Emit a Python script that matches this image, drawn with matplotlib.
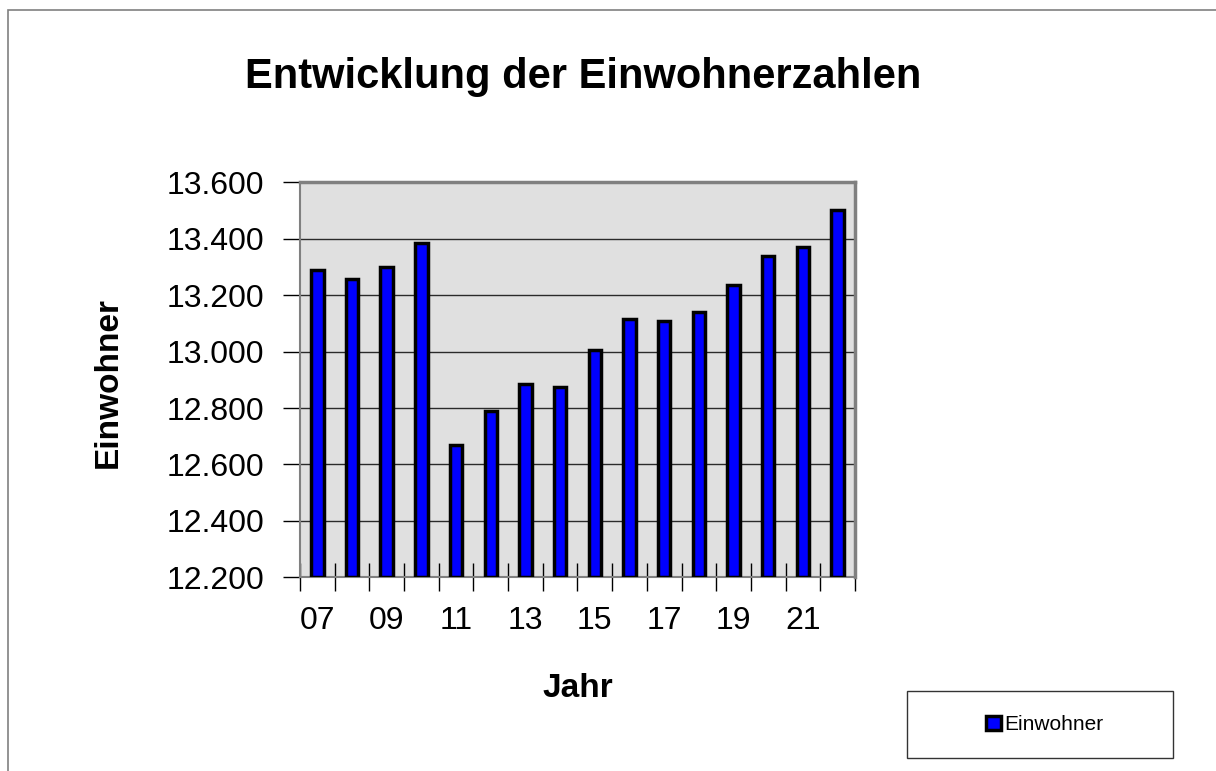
import matplotlib
matplotlib.use("Agg")
import matplotlib.pyplot as plt
from matplotlib.patches import Rectangle
from matplotlib.ticker import FuncFormatter, MultipleLocator

jahre = ["07", "08", "09", "10", "11", "12", "13", "14",
         "15", "16", "17", "18", "19", "20", "21", "22"]
einwohner = [13288, 13258, 13298, 13386, 12668, 12790, 12886, 12876,
             13005, 13115, 13107, 13139, 13235, 13338, 13370, 13500]

plt.rcParams['font.family'] = ['Liberation Sans', 'DejaVu Sans']

fig = plt.figure(figsize=(12.16, 7.71), dpi=100)
ax = fig.add_axes([0.2467, 0.2512, 0.4564, 0.5124])

# outer chart frame (clipped at right/bottom like the original)
fig.patches.append(Rectangle((0.0066, -0.2), 1.5, 0.2 + 0.9868, transform=fig.transFigure,
                             fill=False, edgecolor="#808080", linewidth=1.2))

x = list(range(len(jahre)))
ax.bar(x, [v - 12200 for v in einwohner], bottom=12200, width=0.36,
       color="#0000ff", edgecolor="black", linewidth=2.5, zorder=3, label="Einwohner")

ax.set_xlim(-0.5, len(jahre) - 0.5)
ax.set_ylim(12200, 13600)
ax.set_facecolor("#e0e0e0")
ax.yaxis.set_major_locator(MultipleLocator(200))
ax.yaxis.set_major_formatter(FuncFormatter(lambda v, p: f"{int(v):,}".replace(",", ".")))
ax.grid(axis="y", color="#2a2a2a", linewidth=1.0, zorder=1)

# ticks on category boundaries, labels every second year
ax.set_xticks([i - 0.5 for i in range(len(jahre) + 1)])
ax.set_xticklabels([])
ax.set_xticks(x[::2], minor=True)
ax.set_xticklabels(jahre[::2], minor=True)
ax.tick_params(axis="x", which="major", direction="inout", length=20, width=1, color="black")
ax.tick_params(axis="x", which="minor", length=0, labelsize=23, pad=21)
ax.tick_params(axis="y", direction="out", length=12, width=1, labelsize=23, pad=14)

for s in ax.spines.values():
    s.set_color("#808080")
    s.set_linewidth(2.5)
ax.spines["left"].set_linewidth(1.5)
ax.spines["bottom"].set_linewidth(1.5)

fig.text(0.480, 0.886, "Entwicklung der Einwohnerzahlen", ha="center", va="baseline",
         fontsize=30, fontweight="bold")
fig.text(0.0888, 0.504, "Einwohner", rotation=90, ha="center", va="center",
         fontsize=24, fontweight="bold")
fig.text(0.4749, 0.096, "Jahr", ha="center", va="baseline",
         fontsize=24, fontweight="bold")

# legend box
fig.patches.append(Rectangle((0.7459, 0.0169), 0.2188, 0.0869, transform=fig.transFigure,
                             fill=False, edgecolor="#333333", linewidth=1.0))
leg = fig.legend(loc="center", bbox_to_anchor=(0.859, 0.0600), frameon=False,
                 fontsize=15, handlelength=0.72, handleheight=0.72, handletextpad=0.15,
                 borderpad=0)
for h in leg.legend_handles:
    h.set_linewidth(2.5)

fig.savefig("out.png", dpi=100)
